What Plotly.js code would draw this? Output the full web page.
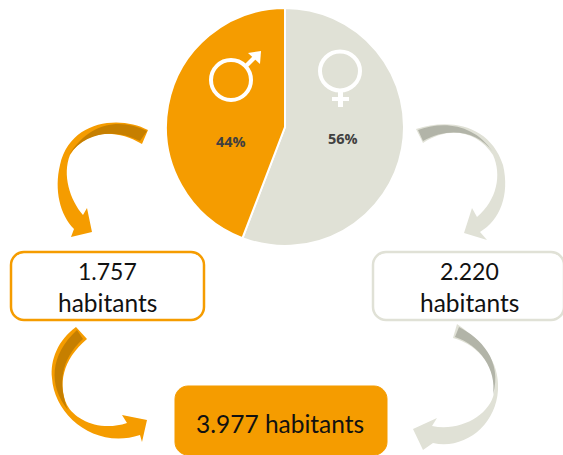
<!DOCTYPE html>
<html>
<head>
<meta charset="utf-8">
<script src="https://cdn.plot.ly/plotly-3.0.1.min.js"></script>
<style>html,body{margin:0;padding:0;background:#fff;overflow:hidden}</style>
</head>
<body>
<div id="chart" style="width:563px;height:455px"></div>
<script>
var categories = ["Femmes", "Hommes"];
var populations = [2220, 1757];
var percentLabels = ["56%", "44%"];
var populationLabels = ["2.220", "1.757"];
var totalLabel = "3.977 habitants";
var unitLabel = "habitants";
var ORANGE = "#F59C00", STONE = "#E0E1D6", DARK_O = "#C67F00", DARK_S = "#B2B4A8";

var W = 563, H = 455;
function fx(x){ return (x / W).toFixed(5); }
function fy(y){ return (1 - y / H).toFixed(5); }
function P(p){ return fx(p[0]) + "," + fy(p[1]); }
// A drawing is a list of points: runs of 3 points are cubic segments, a single point in a [ ] wrapper is a straight line
function draw(start, steps){
  var s = "M " + P(start);
  steps.forEach(function(st){
    if (st.length === 3 && Array.isArray(st[0])) s += " C " + P(st[0]) + " " + P(st[1]) + " " + P(st[2]);
    else s += " L " + P(st);
  });
  return s + " Z";
}
function fillShape(start, steps, color){
  return {type:"path", xref:"paper", yref:"paper", path:draw(start, steps), fillcolor:color, line:{width:0}};
}
function rrect(x0,y0,x1,y1,r,fill,stroke,w){
  var k = r*0.45;
  var path = draw([x0+r,y0], [
    [x1-r,y0], [[x1-k,y0],[x1,y0+k],[x1,y0+r]],
    [x1,y1-r], [[x1,y1-k],[x1-k,y1],[x1-r,y1]],
    [x0+r,y1], [[x0+k,y1],[x0,y1-k],[x0,y1-r]],
    [x0,y0+r], [[x0,y0+k],[x0+k,y0],[x0+r,y0]]
  ]);
  return {type:"path", xref:"paper", yref:"paper", path:path, fillcolor:fill, line:{color:stroke, width:w}};
}
function ring(cx,cy,rx,ry){
  return {type:"circle", xref:"paper", yref:"paper", x0:+fx(cx-rx), x1:+fx(cx+rx), y0:+fy(cy+ry), y1:+fy(cy-ry),
    fillcolor:"rgba(0,0,0,0)", line:{color:"#fff", width:4}};
}

var shapes = [
  // left top arrow
  fillShape([148,130], [[[120,115],[70,120],[60,165]], [[54,190],[60,215],[74,229]],
    [71,237],[92,232],[87,208],[83,215],
    [[70,200],[62,175],[70,155]], [[85,130],[115,128],[142,144]]], ORANGE),
  fillShape([147,131], [[[120,118],[90,122],[69,155]], [[85,132],[115,128],[140,141]]], DARK_O),
  // left bottom arrow
  fillShape([76,327], [[[58,340],[50,360],[52,378]], [[54,415],[95,450],[140,435]],
    [142,442],[147,420],[122,415],[127,423],
    [[100,432],[75,420],[67,405]], [[58,385],[62,360],[87,339]]], ORANGE),
  fillShape([77,330], [[[50,355],[48,385],[68,410]], [[58,385],[60,360],[83,339]]], DARK_O),
  // right top arrow
  fillShape([416,129], [[[450,118],[490,125],[503,165]], [[510,195],[500,220],[480,232]],
    [487,240],[464,233],[472,208],[477,217],
    [[497,200],[502,175],[493,155]], [[478,132],[450,125],[423,143]]], STONE),
  fillShape([418,130], [[[445,120],[475,125],[493,152]], [[478,132],[450,126],[423,141]]], DARK_S),
  // right bottom arrow
  fillShape([457,324], [[[480,340],[500,360],[498,390]], [[496,425],[465,450],[433,443]],
    [423,450],[413,429],[437,418],[432,426],
    [[460,432],[490,415],[494,393]], [[497,370],[480,345],[453,338]]], STONE),
  fillShape([459,327], [[[480,338],[503,360],[493,395]], [[497,370],[480,345],[455,337]]], DARK_S),
  // boxes
  rrect(11,252,204,320,13,"#fff",ORANGE,2.5),
  rrect(373,252,564,320,13,"#fff",STONE,2.5),
  rrect(175,386,387,455,13,ORANGE,ORANGE,1),
  // male symbol
  ring(231,80,20,20),
  fillShape([244,65], [[247,68],[256,59],[253,56]], "#fff"),
  fillShape([261,51], [[248,53],[260,64]], "#fff"),
  // female symbol
  ring(340,71,20,19.5),
  fillShape([338,91], [[343,91],[343,107],[338,107]], "#fff"),
  fillShape([332,97], [[349,97],[349,101],[332,101]], "#fff")
];

var numFont = {family:"Lato, Carlito, sans-serif", size:23, color:"#111"};
var wordFont = {family:"Lato, Carlito, sans-serif", size:24.5, color:"#111"};
function note(x,y,text,font){
  return {xref:"paper", yref:"paper", x:x/W, y:1-y/H, text:text, showarrow:false, xanchor:"center", yanchor:"middle", font:font};
}
var pctFont = {family:"'Open Sans', sans-serif", size:14.5, color:"#404040"};
var annotations = [
  note(343,138,"<b>"+percentLabels[0]+"</b>",pctFont),
  note(231,141,"<b>"+percentLabels[1]+"</b>",pctFont),
  note(107,271,populationLabels[1],numFont),
  note(107,302,unitLabel,wordFont),
  note(469,271,populationLabels[0],numFont),
  note(469,302,unitLabel,wordFont),
  note(280,423,totalLabel,wordFont)
];

var trace = {
  type:"pie", labels:categories, values:populations, sort:false, direction:"clockwise", rotation:0,
  textinfo:"none", hoverinfo:"label+value+percent",
  marker:{colors:[STONE,ORANGE], line:{color:"#fff", width:2}},
  domain:{x:[166/W,404/W], y:[1-246/H,1-8/H]}, showlegend:false
};
Plotly.newPlot("chart",[trace],{
  width:W, height:H, margin:{l:0,r:0,t:0,b:0}, paper_bgcolor:"#fff", showlegend:false,
  shapes:shapes, annotations:annotations
},{displayModeBar:false});
</script>
</body>
</html>
